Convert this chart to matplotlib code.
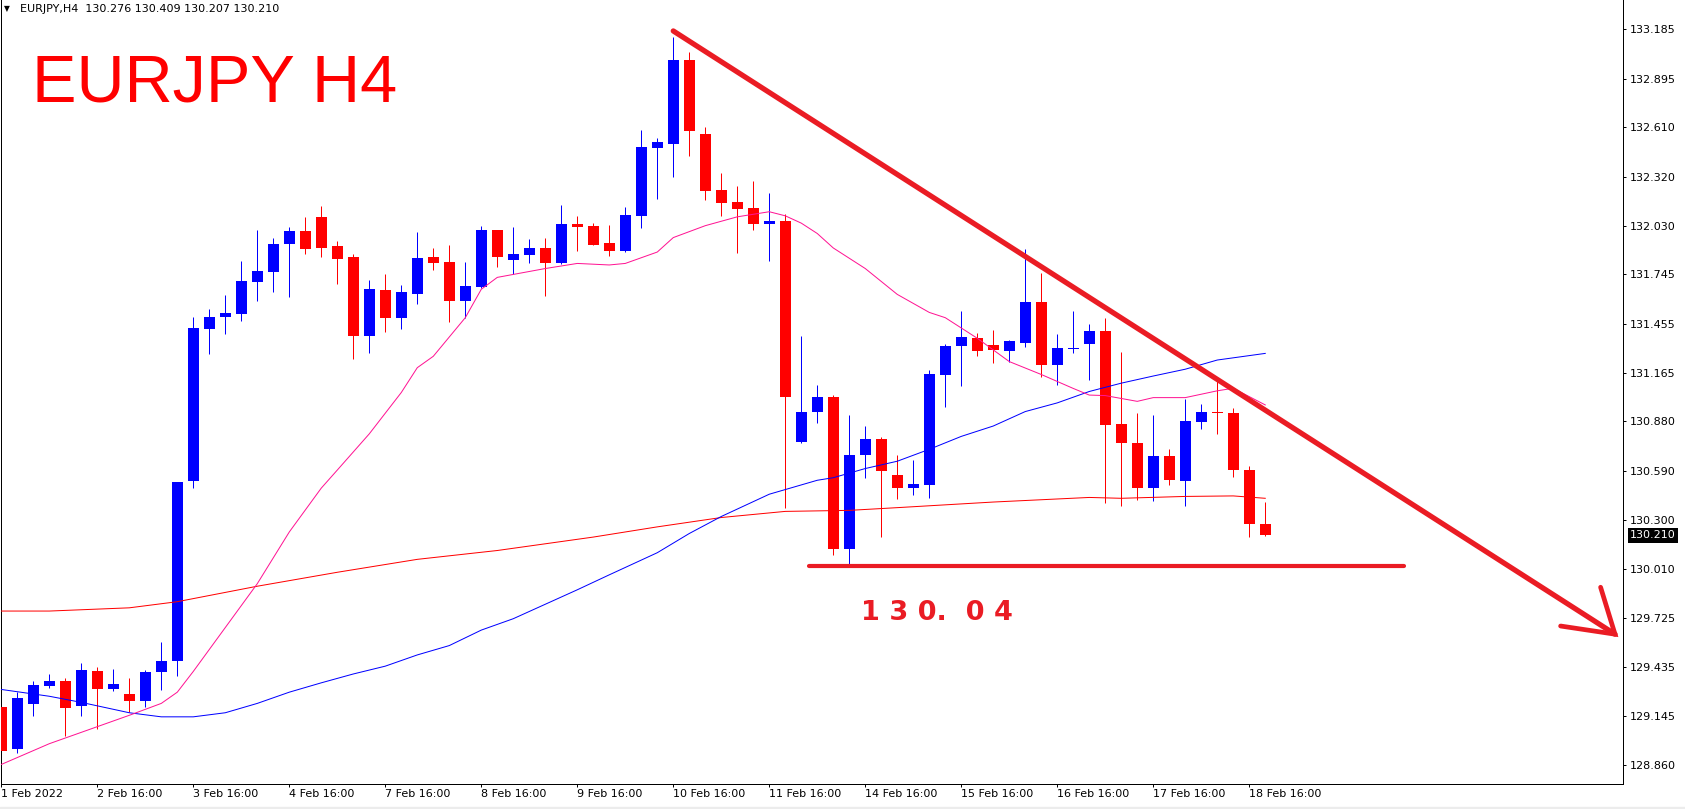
import matplotlib
matplotlib.use("Agg")
import matplotlib.pyplot as plt
from matplotlib.patches import Rectangle

plt.rcParams['font.family'] = ['DejaVu Sans']

W, H = 1685, 809

# ---- H4 candles: index 0 = 1 Feb 16:00 ... 79 = 18 Feb 20:00 ----
opens = [129.203, 128.951, 129.219, 129.325, 129.352, 129.206, 129.410, 129.304, 129.276, 129.237,
         129.407, 129.471, 130.531, 131.423, 131.496, 131.512, 131.700, 131.761, 131.925, 131.997,
         132.083, 131.909, 131.846, 131.384, 131.651, 131.490, 131.627, 131.846, 131.815, 131.591,
         131.669, 132.004, 131.830, 131.861, 131.897, 131.809, 132.040, 132.028, 131.928, 131.882,
         132.086, 132.489, 132.511, 133.006, 132.568, 132.240, 132.168, 132.134, 132.040, 132.058,
         130.758, 130.934, 131.026, 130.130, 130.682, 130.777, 130.567, 130.488, 130.509, 131.153,
         131.323, 131.372, 131.332, 131.296, 131.341, 131.581, 131.214, 131.305, 131.335, 131.414,
         130.862, 130.755, 130.488, 130.679, 130.531, 130.877, 130.938, 130.932, 130.597, 130.276]
highs = [129.380, 129.288, 129.355, 129.392, 129.370, 129.462, 129.437, 129.422, 129.370, 129.416,
         129.583, 130.524, 131.493, 131.539, 131.621, 131.821, 132.004, 131.958, 132.022, 132.083,
         132.146, 131.940, 131.864, 131.709, 131.745, 131.682, 131.994, 131.900, 131.915, 131.815,
         132.028, 132.004, 132.022, 131.952, 131.958, 132.152, 132.086, 132.046, 132.034, 132.140,
         132.593, 132.547, 133.139, 133.054, 132.611, 132.341, 132.262, 132.292, 132.222, 132.098,
         131.381, 131.095, 131.035, 130.916, 130.856, 130.789, 130.682, 130.655, 131.181, 131.338,
         131.527, 131.399, 131.420, 131.360, 131.894, 131.751, 131.393, 131.527, 131.454, 131.490,
         131.287, 130.928, 130.916, 130.719, 131.010, 130.980, 131.117, 130.959, 130.619, 130.409]
lows = [128.930, 128.930, 129.149, 129.313, 129.030, 129.149, 129.070, 129.295, 129.173, 129.200,
        129.298, 129.386, 130.488, 131.275, 131.393, 131.469, 131.587, 131.639, 131.609, 131.867,
        131.846, 131.691, 131.247, 131.281, 131.405, 131.423, 131.569, 131.770, 131.463, 131.487,
        131.663, 131.788, 131.748, 131.809, 131.615, 131.803, 131.885, 131.915, 131.852, 131.876,
        132.019, 132.186, 132.316, 132.441, 132.180, 132.086, 131.870, 132.004, 131.821, 130.373,
        130.755, 130.868, 130.093, 130.036, 130.549, 130.200, 130.424, 130.449, 130.430, 130.965,
        131.089, 131.266, 131.223, 131.232, 131.317, 131.144, 131.095, 131.281, 131.123, 130.403,
        130.385, 130.418, 130.412, 130.509, 130.382, 130.837, 130.807, 130.552, 130.200, 130.207]
closes = [128.945, 129.252, 129.328, 129.352, 129.194, 129.416, 129.307, 129.334, 129.237, 129.404,
          129.474, 130.521, 131.427, 131.493, 131.518, 131.703, 131.764, 131.922, 131.997, 131.894,
          131.900, 131.837, 131.384, 131.657, 131.490, 131.639, 131.840, 131.809, 131.591, 131.676,
          132.004, 131.849, 131.864, 131.897, 131.809, 132.040, 132.022, 131.915, 131.885, 132.092,
          132.492, 132.523, 133.006, 132.587, 132.234, 132.164, 132.128, 132.040, 132.061, 131.026,
          130.938, 131.026, 130.130, 130.685, 130.774, 130.588, 130.488, 130.512, 131.156, 131.326,
          131.375, 131.296, 131.302, 131.351, 131.581, 131.214, 131.311, 131.311, 131.414, 130.859,
          130.752, 130.488, 130.679, 130.534, 130.880, 130.938, 130.932, 130.594, 130.275, 130.210]

# ---- moving averages (read at selected bars) ----
ma_fast_idx = [0, 3, 8, 10, 11, 12, 14, 16, 18, 20, 21, 23, 25, 26, 27, 29, 30, 31, 34, 36, 38, 39, 41, 42,
               44, 46, 48, 49, 50, 51, 52, 54, 56, 58, 59, 61, 63, 65, 67, 68, 69, 71, 72, 74, 76, 77, 79]
ma_fast_val = [128.863, 128.985, 129.152, 129.222, 129.288, 129.410, 129.668, 129.926, 130.230, 130.488,
               130.594, 130.807, 131.050, 131.196, 131.263, 131.490, 131.657, 131.727, 131.779, 131.809,
               131.800, 131.809, 131.876, 131.961, 132.031, 132.083, 132.113, 132.089, 132.046, 131.985,
               131.900, 131.779, 131.627, 131.521, 131.490, 131.369, 131.232, 131.156, 131.074, 131.035,
               131.032, 130.998, 131.020, 131.020, 131.060, 131.075, 130.977]
ma_mid_idx = [0, 3, 5, 8, 10, 12, 14, 16, 18, 20, 22, 24, 26, 28, 30, 32, 34, 36, 38, 41, 43, 45, 48, 51,
              52, 54, 56, 58, 60, 62, 64, 66, 68, 70, 72, 74, 76, 79]
ma_mid_val = [129.304, 129.264, 129.228, 129.167, 129.143, 129.143, 129.167, 129.222, 129.288, 129.343,
              129.395, 129.441, 129.507, 129.562, 129.653, 129.720, 129.805, 129.890, 129.978, 130.108,
              130.221, 130.321, 130.452, 130.534, 130.549, 130.603, 130.646, 130.716, 130.792, 130.853,
              130.938, 130.989, 131.056, 131.105, 131.147, 131.187, 131.241, 131.280]
ma_slow_idx = [0, 3, 8, 11, 16, 21, 26, 31, 37, 41, 45, 49, 53, 56, 62, 68, 70, 74, 77, 79]
ma_slow_val = [129.765, 129.765, 129.784, 129.820, 129.911, 129.993, 130.069, 130.121, 130.200, 130.260,
               130.315, 130.351, 130.357, 130.373, 130.406, 130.433, 130.428, 130.439, 130.442, 130.428]

# ---- drawings ----
trend_x = [42.0, 100.86]
trend_y = [133.176, 129.629]
arrow_x = [97.46, 100.86, 99.96]
arrow_y = [129.677, 129.629, 129.905]
support_x = [50.5, 87.7]
support_y = [130.03, 130.03]
support_label = "1 3 0.  0 4"

xtick_idx = [0, 6, 12, 18, 24, 30, 36, 42, 48, 54, 60, 66, 72, 78]
xtick_labels = ['1 Feb 2022', '2 Feb 16:00', '3 Feb 16:00', '4 Feb 16:00', '7 Feb 16:00', '8 Feb 16:00',
                '9 Feb 16:00', '10 Feb 16:00', '11 Feb 16:00', '14 Feb 16:00', '15 Feb 16:00',
                '16 Feb 16:00', '17 Feb 16:00', '18 Feb 16:00']
ytick_vals = [133.185, 132.895, 132.610, 132.320, 132.030, 131.745, 131.455, 131.165,
              130.880, 130.590, 130.300, 130.010, 129.725, 129.435, 129.145, 128.860]
last_price = 130.210

BLUE = '#0000ff'
RED = '#ff0000'
DRAW_RED = '#ea1c24'

fig = plt.figure(figsize=(W / 100, H / 100), dpi=100)
fig.patch.set_facecolor('white')
ax = fig.add_axes([1 / W, (H - 783.5) / H, (1623 - 1) / W, 783.5 / H])
ax.set_xlim(-0.019, 101.36)
ax.set_ylim(128.751, 133.358)

px = 0.72  # one pixel in points
min_body = 0.006
for i, (o, h, l, c) in enumerate(zip(opens, highs, lows, closes)):
    col = BLUE if c >= o else RED
    ax.vlines(i, l, h, color=col, lw=1.0 * px, zorder=2)
    bottom = min(o, c)
    height = max(abs(c - o), min_body)
    ax.bar(i, height, bottom=bottom, width=0.6875, color=col, linewidth=0, zorder=3)

ax.plot(ma_slow_idx, ma_slow_val, color=RED, lw=1.0 * px, zorder=4)
ax.plot(ma_mid_idx, ma_mid_val, color=BLUE, lw=1.0 * px, zorder=4)
ax.plot(ma_fast_idx, ma_fast_val, color='#ff1493', lw=1.0 * px, zorder=4)

ax.plot(trend_x, trend_y, color=DRAW_RED, lw=3.8, solid_capstyle='round', zorder=6, clip_on=False)
ax.plot(arrow_x, arrow_y, color=DRAW_RED, lw=3.4, solid_capstyle='round', solid_joinstyle='miter',
        zorder=6, clip_on=False)
ax.plot(support_x, support_y, color=DRAW_RED, lw=3.0, solid_capstyle='round', zorder=6)
ax.text(53.75, 129.712, support_label, color=DRAW_RED, fontsize=19.5, fontweight='bold',
        family='DejaVu Sans', va='baseline', ha='left', zorder=7)

# axes styling
ax.spines['top'].set_visible(False)
for s in ['left', 'bottom', 'right']:
    ax.spines[s].set_linewidth(1.0 * px)
    ax.spines[s].set_color('black')

ax.yaxis.tick_right()
ax.set_yticks(ytick_vals)
ax.set_yticklabels(['%.3f' % v for v in ytick_vals])
ax.set_xticks(xtick_idx)
ax.set_xticklabels(xtick_labels, ha='left')
ax.tick_params(axis='y', direction='out', length=2.2, width=0.72, pad=3.0, labelsize=8, colors='black')
ax.tick_params(axis='x', direction='out', length=2.2, width=0.72, pad=1.5, labelsize=8, colors='black')
for lbl in ax.get_xticklabels():
    lbl.set_horizontalalignment('left')

# last price box on the price axis
ax.annotate('%.3f' % last_price, xy=(1.0, last_price), xycoords=('axes fraction', 'data'),
            xytext=(7, 0), textcoords='offset pixels', va='center', ha='left', fontsize=8,
            color='white', zorder=10, annotation_clip=False,
            bbox=dict(boxstyle='square,pad=0.2', fc='black', ec='none'))

# header and title
fig.text(4 / W, 1 - 11.5 / H, '\u25bc', fontsize=5.5, color='black', va='baseline', ha='left')
fig.text(20 / W, 1 - 12 / H, 'EURJPY,H4  130.276 130.409 130.207 130.210', fontsize=8,
         color='black', va='baseline', ha='left')
fig.text(32 / W, 1 - 101.8 / H, 'EURJPY H4', fontsize=48, color=RED, family='Liberation Sans',
         va='baseline', ha='left')

fig.patches.append(Rectangle((0, 0), 1, 2.5 / H, transform=fig.transFigure, color='#ececec', zorder=0))

fig.savefig('out.png', dpi=100)
